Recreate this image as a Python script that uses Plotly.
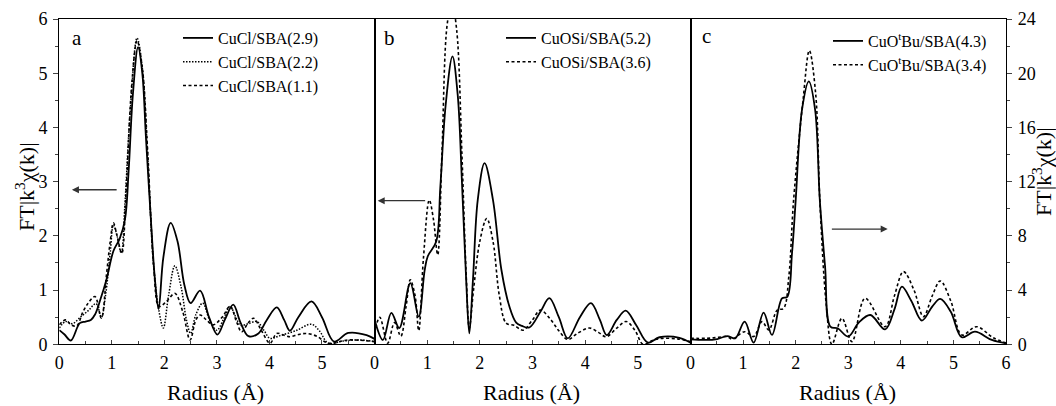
import plotly.graph_objects as go

# ---- Panel a: CuCl/SBA samples ----
a1_x = [0, 0.1, 0.22, 0.39, 0.5, 0.6, 0.68, 0.78, 0.9, 1.03, 1.15, 1.25, 1.32, 1.4, 1.5, 1.58, 1.65, 1.75, 1.82, 1.89,
        1.98, 2.12, 2.25, 2.38, 2.5, 2.68, 2.85, 3.01, 3.15, 3.31, 3.45, 3.6, 3.79, 3.95, 4.14, 4.28, 4.39, 4.55, 4.8,
        5.0, 5.23, 5.5, 5.85, 6.0]
a1_y = [0.26, 0.18, 0.07, 0.39, 0.42, 0.45, 0.55, 0.82, 1.2, 1.72, 1.95, 2.3, 3.2, 4.6, 5.48, 5.0, 3.8, 2.2, 1.2, 0.65,
        1.6, 2.24, 1.9, 1.1, 0.76, 0.99, 0.5, 0.18, 0.45, 0.73, 0.4, 0.15, 0.2, 0.45, 0.68, 0.45, 0.25, 0.5, 0.79,
        0.5, 0.05, 0.21, 0.17, 0.1]

a2_x = [0, 0.12, 0.25, 0.4, 0.55, 0.7, 0.8, 0.88, 0.97, 1.03, 1.1, 1.18, 1.25, 1.35, 1.48, 1.58, 1.68, 1.8, 1.9, 1.98,
        2.08, 2.2, 2.32, 2.42, 2.5, 2.6, 2.73, 2.86, 3.0, 3.12, 3.25, 3.36, 3.45, 3.6, 3.76, 3.9, 4.01, 4.2, 4.5, 4.8,
        4.95, 5.12, 5.4, 5.7, 6.0]
a2_y = [0.3, 0.42, 0.38, 0.5, 0.62, 0.75, 0.5, 0.9, 1.7, 2.2, 2.0, 1.68, 2.6, 4.3, 5.65, 5.1, 3.5, 1.4, 0.6, 0.3,
        0.9, 1.45, 1.05, 0.45, 0.2, 0.55, 0.76, 0.45, 0.26, 0.45, 0.7, 0.5, 0.35, 0.38, 0.42, 0.25, 0.11, 0.16, 0.25, 0.37,
        0.25, 0.02, 0.06, 0.08, 0.05]

a3_x = [0, 0.12, 0.22, 0.33, 0.45, 0.55, 0.68, 0.8, 0.9, 0.97, 1.03, 1.1, 1.19, 1.27, 1.38, 1.48, 1.58, 1.68, 1.8, 1.9,
        2.05, 2.2, 2.35, 2.49, 2.6, 2.68, 2.8, 2.93, 3.1, 3.25, 3.38, 3.47, 3.6, 3.7, 3.85, 4.01, 4.14, 4.27, 4.39, 4.55,
        4.7, 4.9, 5.12, 5.5, 6.0]
a3_y = [0.36, 0.45, 0.36, 0.34, 0.6, 0.76, 0.88, 0.48, 1.3, 1.9, 2.24, 2.0, 1.68, 2.8, 4.8, 5.6, 5.1, 3.6, 1.4, 0.7,
        0.8, 0.94, 0.6, 0.08, 0.45, 0.54, 0.45, 0.36, 0.5, 0.7, 0.4, 0.23, 0.4, 0.48, 0.25, 0.02, 0.2, 0.17, 0.14, 0.18,
        0.2, 0.15, 0.02, 0.08, 0.05]

# ---- Panel b: CuOSi/SBA samples ----
b1_x = [0, 0.16, 0.32, 0.47, 0.68, 0.84, 0.95, 1.01, 1.17, 1.25, 1.35, 1.48, 1.58, 1.66, 1.74, 1.8, 1.87, 1.96, 2.09,
        2.25, 2.41, 2.56, 2.69, 2.8, 2.94, 3.15, 3.32, 3.5, 3.67, 3.9, 4.11, 4.28, 4.41, 4.6, 4.77, 4.97, 5.19, 5.41,
        5.79, 6.0]
b1_y = [0.46, 0.08, 0.58, 0.3, 1.13, 0.51, 1.35, 1.62, 1.89, 2.9, 4.4, 5.31, 4.6, 3.0, 1.2, 0.2, 1.2, 2.66, 3.34,
        2.66, 1.37, 0.7, 0.4, 0.34, 0.31, 0.6, 0.85, 0.5, 0.11, 0.5, 0.76, 0.45, 0.17, 0.45, 0.62, 0.35, 0.03, 0.13,
        0.12, 0.03]

b2_x = [0, 0.1, 0.25, 0.38, 0.5, 0.6, 0.68, 0.77, 0.84, 0.93, 1.04, 1.12, 1.2, 1.28, 1.38, 1.47, 1.56, 1.66, 1.74, 1.8,
        1.88, 2.0, 2.13, 2.25, 2.37, 2.5, 2.65, 2.82, 3.0, 3.15, 3.35, 3.5, 3.67, 3.85, 4.08, 4.25, 4.4, 4.6, 4.78, 4.95,
        5.1, 5.3, 5.47, 5.75, 6.0]
b2_y = [0.2, 0.5, 0.02, 0.4, 0.15, 0.7, 1.19, 0.9, 0.25, 1.6, 2.66, 2.3, 1.65, 3.5, 5.9, 6.3, 5.8, 3.5, 1.3, 0.3,
        1.0, 1.9, 2.32, 1.9, 0.9, 0.39, 0.35, 0.26, 0.45, 0.63, 0.45, 0.25, 0.09, 0.2, 0.3, 0.22, 0.14, 0.3, 0.42, 0.25,
        0.0, 0.08, 0.11, 0.1, 0.05]

# ---- Panel c: CuOtBu/SBA samples (right axis) ----
c1_x = [0, 0.28, 0.51, 0.7, 0.85, 1.03, 1.2, 1.39, 1.55, 1.74, 1.84, 1.93, 2.0, 2.12, 2.25, 2.37, 2.46, 2.56, 2.66,
        2.8, 3.0, 3.2, 3.42, 3.7, 3.88, 4.02, 4.2, 4.4, 4.6, 4.75, 4.95, 5.16, 5.41, 5.73, 6.0]
c1_y = [0.37, 0.32, 0.39, 0.61, 0.44, 1.67, 0.12, 2.34, 0.69, 3.39, 3.5, 6.7, 10.6, 17.3, 19.4, 17.3, 10.6, 5.7, 1.3,
        1.18, 0.57, 1.6, 2.16, 1.1, 2.6, 4.25, 3.2, 1.75, 2.8, 3.35, 2.4, 0.52, 0.93, 0.32, 0.07]

c2_x = [0, 0.3, 0.5, 0.7, 0.79, 1.03, 1.2, 1.36, 1.49, 1.65, 1.77, 1.87, 1.96, 2.14, 2.26, 2.38, 2.46, 2.58, 2.69,
        2.88, 3.07, 3.32, 3.7, 3.88, 4.05, 4.25, 4.43, 4.6, 4.75, 4.95, 5.16, 5.44, 5.75, 6.0]
c2_y = [0.44, 0.44, 0.5, 0.57, 0.37, 0.93, 0.57, 1.67, 1.06, 2.53, 2.65, 5.0, 10.6, 18.0, 21.67, 18.5, 10.6, 3.0, 0.0,
        1.92, 0.2, 3.39, 1.3, 3.6, 5.36, 4.0, 2.04, 3.6, 4.67, 3.2, 0.69, 1.3, 0.5, 0.1]

radius_ticks_ab = [0, 1, 2, 3, 4, 5]
radius_ticks_c = [0, 1, 2, 3, 4, 5, 6]

SERIF = "Liberation Serif, Times New Roman, serif"
W, H = 1056, 406

# panel geometry in pixels
X_EDGES = [(59.3, 374.5), (374.5, 690.5), (690.5, 1006.0)]
Y_TOP, Y_BOT = 19.0, 344.3


def px_x(p):
    return p / W


def px_y(p):
    return (H - p) / H


fig = go.Figure()

solid = dict(color="black", width=1.8)
dotted = dict(color="black", width=1.5, dash="1.5px,1.5px")
dashed = dict(color="black", width=1.6, dash="3px,2.5px")

fig.add_trace(go.Scatter(x=a1_x, y=a1_y, mode="lines", line=dict(**solid, shape="spline"),
                         name="CuCl/SBA(2.9)", xaxis="x", yaxis="y", legend="legend"))
fig.add_trace(go.Scatter(x=a2_x, y=a2_y, mode="lines", line=dict(**dotted, shape="spline"),
                         name="CuCl/SBA(2.2)", xaxis="x", yaxis="y", legend="legend"))
fig.add_trace(go.Scatter(x=a3_x, y=a3_y, mode="lines", line=dict(**dashed, shape="spline"),
                         name="CuCl/SBA(1.1)", xaxis="x", yaxis="y", legend="legend"))

fig.add_trace(go.Scatter(x=b1_x, y=b1_y, mode="lines", line=dict(**solid, shape="spline"),
                         name="CuOSi/SBA(5.2)", xaxis="x2", yaxis="y2", legend="legend2"))
fig.add_trace(go.Scatter(x=b2_x, y=b2_y, mode="lines", line=dict(**dashed, shape="spline"),
                         name="CuOSi/SBA(3.6)", xaxis="x2", yaxis="y2", legend="legend2"))

fig.add_trace(go.Scatter(x=c1_x, y=c1_y, mode="lines", line=dict(**solid, shape="spline"),
                         name="CuO<sup>t</sup>Bu/SBA(4.3)", xaxis="x3", yaxis="y3", legend="legend3"))
fig.add_trace(go.Scatter(x=c2_x, y=c2_y, mode="lines", line=dict(**dashed, shape="spline"),
                         name="CuO<sup>t</sup>Bu/SBA(3.4)", xaxis="x3", yaxis="y3", legend="legend3"))

tick_font = dict(family=SERIF, size=18, color="black")
y_dom = [px_y(Y_BOT), px_y(Y_TOP)]


def x_axis(i, tickvals, anchor):
    x0, x1 = X_EDGES[i]
    return dict(domain=[px_x(x0), px_x(x1)], anchor=anchor, range=[0, 6], automargin=False,
                tickmode="array", tickvals=tickvals, ticks="inside", ticklen=4, tickwidth=1.2,
                minor=dict(ticks="inside", ticklen=3, tickwidth=1.2, dtick=0.5, tick0=0),
                showline=True, linecolor="black", linewidth=1.3, mirror=True,
                showgrid=False, zeroline=False, tickfont=tick_font, ticklabelstandoff=2)


legend_common = dict(bgcolor="rgba(0,0,0,0)", borderwidth=0, font=dict(family=SERIF, size=16, color="black"),
                     xanchor="left", yanchor="top", tracegroupgap=0, itemwidth=30)

fig.update_layout(
    width=W, height=H, margin=dict(l=0, r=0, t=0, b=0, autoexpand=False),
    paper_bgcolor="white", plot_bgcolor="white",
    font=dict(family=SERIF, color="black"),
    xaxis=x_axis(0, radius_ticks_ab, "y"),
    xaxis2=x_axis(1, radius_ticks_ab, "y2"),
    xaxis3=x_axis(2, radius_ticks_c, "y3"),
    yaxis=dict(domain=y_dom, anchor="x", range=[0, 6], dtick=1, tick0=0, ticks="outside", ticklen=5,
               tickwidth=1.2, minor=dict(ticks="outside", ticklen=3, tickwidth=1.2, dtick=0.5, tick0=0),
               showline=True, linecolor="black", linewidth=1.3, mirror=True, showgrid=False, automargin=False,
               zeroline=False, tickfont=tick_font, ticklabelstandoff=2),
    yaxis2=dict(domain=y_dom, anchor="x2", range=[0, 6], showticklabels=False, ticks="", automargin=False,
                showline=True, linecolor="black", linewidth=1.3, mirror=True, showgrid=False, zeroline=False),
    yaxis3=dict(domain=y_dom, anchor="x3", side="right", range=[0, 24], dtick=4, tick0=0, ticks="outside",
                ticklen=5, tickwidth=1.2, automargin=False,
                minor=dict(ticks="outside", ticklen=3, tickwidth=1.2, dtick=2, tick0=0),
                showline=True, linecolor="black", linewidth=1.3, mirror=True, showgrid=False,
                zeroline=False, tickfont=tick_font, ticklabelstandoff=2),
    legend=dict(x=px_x(178), y=px_y(21), **legend_common),
    legend2=dict(x=px_x(501), y=px_y(21), **legend_common),
    legend3=dict(x=px_x(828), y=px_y(24), **legend_common),
    showlegend=True,
)

centered = dict(xref="paper", yref="paper", xanchor="center", yanchor="middle", showarrow=False)
annotations = []
# panel letters
for txt, xp, yp in [("a", 77, 38), ("b", 389, 38), ("c", 706, 36)]:
    annotations.append(dict(text=txt, x=px_x(xp), y=px_y(yp), font=dict(family=SERIF, size=21, color="black"),
                            **centered))
# x axis titles
for (x0, x1) in X_EDGES:
    annotations.append(dict(text="Radius (Å)", x=px_x((x0 + x1) / 2 - 1), y=px_y(392),
                            font=dict(family=SERIF, size=22, color="black"), **centered))
# y axis titles
ytitle = "FT|k<sup>3</sup>χ(k)|"
annotations.append(dict(text=ytitle, x=px_x(25), y=px_y(187), textangle=-90,
                        font=dict(family=SERIF, size=22, color="black"), **centered))
annotations.append(dict(text=ytitle, x=px_x(1042), y=px_y(172), textangle=-90,
                        font=dict(family=SERIF, size=22, color="black"), **centered))
# arrows pointing to the relevant axis
arrow_style = dict(text="", showarrow=True, arrowhead=2, arrowsize=1, arrowwidth=1.4, arrowcolor="#333")
annotations.append(dict(x=0.24, y=2.85, ax=1.12, ay=2.85, xref="x", yref="y", axref="x", ayref="y", **arrow_style))
annotations.append(dict(x=0.06, y=2.65, ax=0.99, ay=2.65, xref="x2", yref="y2", axref="x2", ayref="y2",
                        **arrow_style))
annotations.append(dict(x=3.75, y=8.5, ax=2.66, ay=8.5, xref="x3", yref="y3", axref="x3", ayref="y3",
                        **arrow_style))
fig.update_layout(annotations=annotations)

fig.write_html("out.html")
